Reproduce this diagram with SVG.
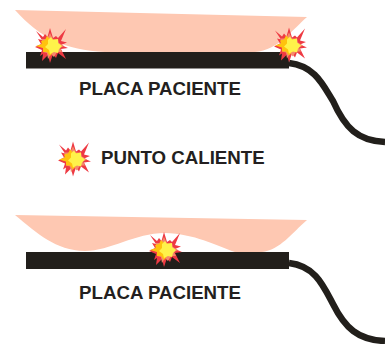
<svg xmlns="http://www.w3.org/2000/svg" width="385" height="344" viewBox="0 0 385 344">
<style>
.skin{fill:#fec8b2}
.pad{fill:#221f1b}
.cable{fill:none;stroke:#221f1b;stroke-width:6.5}
.lbl{font-family:"Liberation Sans",Arial,sans-serif;font-weight:700;font-size:18.7px;fill:#231f20}
</style>
<defs>
<g id="spark">
<polygon fill="#ee3a43" points="-15,-15 -8,-9 -6,-12 -3.500,-9 -1,-18 2,-8 5,-10 7,-8 15,-17 10,-5 16,-3.500 10,-1 17,2 10,3 15,13 7,7 5,12 2,8 -1,17 -3,9 -9,15 -8,8 -11,10 -9,4 -16,1 -10,-2 -13,-7 -9,-6"/>
<polygon fill="#f58a6a" points="-9,-7 -4,-7 -1,-13 2,-7 7,-7 8,-3 13,0 9,2 11,6 6,6 3,11 0,8 -3,13 -4,7 -8,6 -8,2 -12,0 -9,-3"/>
<polygon fill="#ffc20e" points="-10,-5 -6,-6 -4,-10 -1,-7 5,-6 7,0 6,5 2,6 -1,10 -4,6 -8,6 -8,2 -15,0 -9,-2"/>
<polygon fill="#fff24a" points="-3,-6 0,-9 2,-6 7,-7 7,-3 11,0 8,3 7,7 3,6 -1,8 -2,4 -6,1 -3,-2"/>
</g>
</defs>
<g id="connectors">
<path class="cable" d="M289,63C315,66 323,85 333,101C345,128 358,141 385,142"/>
<path class="cable" d="M289,263C315,266 323,285 333,304C345,328 358,340 385,341"/>
</g>
<g id="pad-top">
<path class="skin" d="M15,10L307,17C290,32 278,50 255,52L105,52C65,50 40,38 15,10Z"/>
<rect class="pad" x="26" y="52" width="263" height="16.500"/>
<text class="lbl" x="160" y="94.500" text-anchor="middle">PLACA PACIENTE</text>
</g>
<g id="spark-left"><use href="#spark" x="51" y="46"/></g>
<g id="spark-right"><use href="#spark" x="290" y="45.500"/></g>
<g id="legend">
<use href="#spark" x="74" y="159.500"/>
<text class="lbl" x="101" y="164">PUNTO CALIENTE</text>
</g>
<g id="pad-bottom">
<path class="skin" d="M15,215L307,220C292,233 280,250 262,252L235,252C215,245 195,234 165,233C135,233 110,251 85,251C55,250 38,234 15,215Z"/>
<rect class="pad" x="26" y="252" width="263" height="17"/>
<text class="lbl" x="160" y="298.500" text-anchor="middle">PLACA PACIENTE</text>
</g>
<g id="spark-center"><use href="#spark" x="165" y="250"/></g>
</svg>
